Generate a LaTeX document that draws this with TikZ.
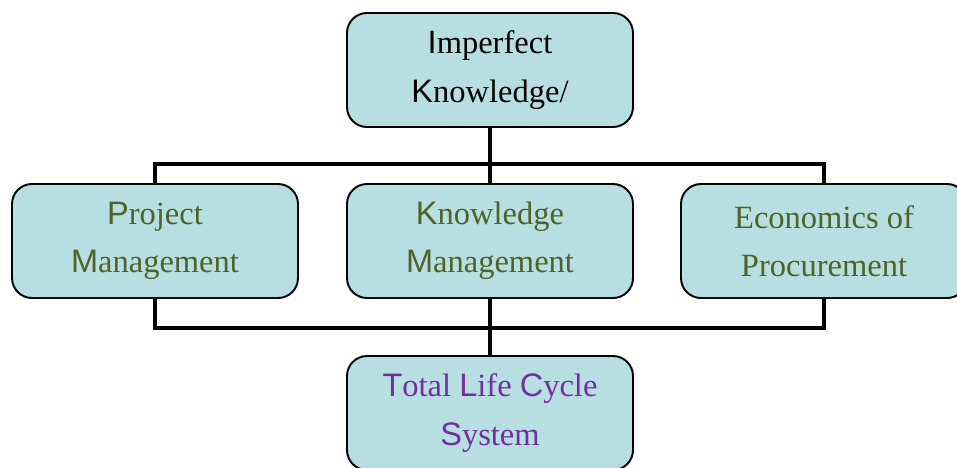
\documentclass[tikz,border=0pt]{standalone}
\usepackage{fontspec}
\setmainfont{Liberation Serif}
\newfontfamily\capsans{Liberation Sans}
\usepackage{xcolor}
\usetikzlibrary{positioning}

\definecolor{boxfill}{RGB}{183,223,226}
\definecolor{olivetext}{RGB}{79,98,40}
\definecolor{purpletext}{RGB}{112,48,160}
\newcommand{\capl}[1]{\begingroup\capsans #1\endgroup}

\tikzset{
    box/.style={draw, rounded corners=0.4cm, fill=boxfill, line width=1.1pt,
        minimum width=5.72cm, minimum height=2.28cm, align=center,
        font=\fontsize{18.5}{27.5}\selectfont},
    bus/.style={line width=2.8pt}
}

\begin{document}
\begin{tikzpicture}
    \useasboundingbox (0,0) rectangle (19.14,-9.34);
    \clip (0,0) rectangle (19.14,-9.34);

    % Boxes
    \node[box] (imp) at (9.8,-1.4) {\capl{I}mperfect\\\capl{K}nowledge/};
    \node[box, text=olivetext] (pm) at (3.1,-4.82) {\capl{P}roject\\\capl{M}anagement};
    \node[box, text=olivetext] (km) at (9.8,-4.82) {\capl{K}nowledge\\\capl{M}anagement};
    \node[box, text=olivetext] (ep) at (16.48,-4.82) {Economics of\\Procurement};
    \node[box, text=purpletext] (tl) at (9.8,-8.26) {\capl{T}otal \capl{L}ife \capl{C}ycle\\\capl{S}ystem};

    % Bus lines
    \coordinate (topbus) at (0,-3.28);
    \coordinate (lowbus) at (0,-6.56);

    % Upper connectors
    \draw[bus] (imp.south) -- (imp.south |- topbus);
    \draw[bus] (pm.north) |- (ep.north |- topbus) -- (ep.north);
    \draw[bus] (km.north) -- (km.north |- topbus);

    % Lower connectors
    \draw[bus] (pm.south) |- (ep.south |- lowbus) -- (ep.south);
    \draw[bus] (km.south) -- (tl.north);

\end{tikzpicture}
\end{document}
